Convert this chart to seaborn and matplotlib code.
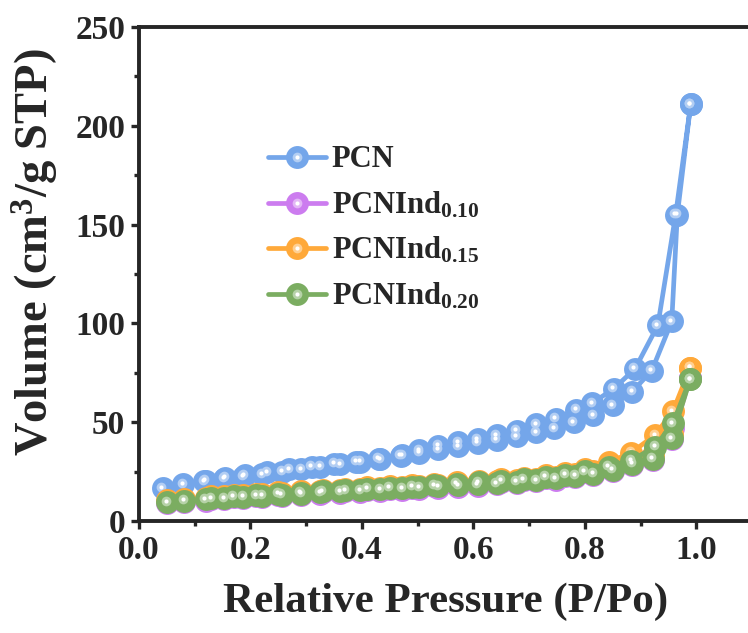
import numpy as np
import pandas as pd
import seaborn as sns
import matplotlib.pyplot as plt
import matplotlib.transforms as mtransforms
from matplotlib.legend_handler import HandlerTuple
from matplotlib.colors import to_rgb

# data: N2 isotherms, adsorption then desorption (P/Po, volume)
pcn_ads_p = [0.043, 0.079, 0.117, 0.153, 0.187, 0.221, 0.257, 0.291, 0.325, 0.361, 0.397, 0.433,
             0.470, 0.503, 0.537, 0.573, 0.608, 0.642, 0.678, 0.713, 0.745, 0.780, 0.815, 0.850,
             0.885, 0.920, 0.956, 0.966, 0.990]
pcn_ads_v = [16.5, 18.5, 20.0, 21.3, 22.5, 23.7, 25.0, 26.3, 27.5, 28.7, 30.0, 31.3,
             33.0, 34.6, 36.2, 37.8, 39.5, 41.2, 43.0, 45.0, 47.0, 50.0, 53.5, 58.5,
             65.5, 76.0, 101.0, 155.0, 211.0]
pcn_des_p = [0.990, 0.963, 0.931, 0.890, 0.852, 0.813, 0.785, 0.748, 0.713, 0.678, 0.642, 0.608,
             0.573, 0.537, 0.503, 0.472, 0.430, 0.390, 0.350, 0.310, 0.270, 0.230, 0.190, 0.155, 0.120]
pcn_des_v = [211.0, 155.0, 99.0, 77.0, 67.0, 59.6, 56.2, 51.8, 48.9, 45.7, 43.4, 41.3,
             39.8, 38.0, 35.9, 33.4, 31.6, 30.1, 28.9, 27.5, 26.2, 24.7, 23.2, 21.8, 20.4]

ind_ads_p = [0.051, 0.081, 0.120, 0.153, 0.187, 0.221, 0.256, 0.291, 0.325, 0.361, 0.397, 0.433,
             0.472, 0.503, 0.537, 0.573, 0.608, 0.642, 0.678, 0.713, 0.748, 0.783, 0.815, 0.850,
             0.885, 0.922, 0.956, 0.989]
ind_des_p = [0.989, 0.958, 0.926, 0.883, 0.843, 0.800, 0.765, 0.730, 0.690, 0.650, 0.610, 0.570,
             0.530, 0.490, 0.450, 0.410, 0.370, 0.330, 0.290, 0.250, 0.210, 0.170, 0.130]

ind10_ads_v = [8.9, 9.6, 10.2, 10.9, 11.5, 12.1, 12.7, 13.2, 13.8, 14.3, 14.8, 15.3,
               15.8, 16.3, 16.8, 17.3, 17.9, 18.5, 19.2, 20.0, 20.9, 22.1, 23.3, 25.3,
               28.3, 31.0, 41.5, 72.5]
ind10_des_v = [72.5, 47.0, 38.5, 30.0, 27.0, 24.7, 23.0, 21.8, 20.7, 19.8, 19.0, 18.3,
               17.6, 16.9, 16.3, 15.7, 15.1, 14.5, 13.9, 13.3, 12.6, 11.9, 11.1]

ind15_ads_v = [10.4, 11.1, 11.7, 12.4, 13.0, 13.6, 14.2, 14.7, 15.3, 15.8, 16.3, 16.8,
               17.3, 17.8, 18.3, 18.8, 19.4, 20.0, 20.7, 21.5, 22.4, 23.6, 25.2, 27.6,
               30.6, 33.5, 44.0, 77.5]
ind15_des_v = [77.5, 55.5, 43.5, 34.5, 29.8, 26.4, 24.4, 23.1, 22.0, 21.1, 20.3, 19.6,
               18.9, 18.2, 17.6, 17.0, 16.4, 15.8, 15.2, 14.6, 13.9, 13.2, 12.4]

ind20_ads_v = [9.6, 10.3, 10.9, 11.6, 12.2, 12.8, 13.4, 13.9, 14.5, 15.0, 15.5, 16.0,
               16.5, 17.0, 17.5, 18.0, 18.6, 19.2, 19.9, 20.7, 21.6, 22.8, 24.0, 26.0,
               29.0, 31.5, 42.0, 71.7]
ind20_des_v = [71.7, 49.4, 37.6, 30.5, 27.5, 25.2, 23.5, 22.3, 21.2, 20.3, 19.5, 18.8,
               18.1, 17.4, 16.8, 16.2, 15.6, 15.0, 14.4, 13.8, 13.1, 12.4, 11.6]

labels = ["PCN", "PCNInd$_{0.10}$", "PCNInd$_{0.15}$", "PCNInd$_{0.20}$"]
colors = ["#74A6EA", "#CC7CEF", "#FFA93A", "#7BAD61"]

series = [
    (pcn_ads_p + pcn_des_p, pcn_ads_v + pcn_des_v),
    (ind_ads_p + ind_des_p, ind10_ads_v + ind10_des_v),
    (ind_ads_p + ind_des_p, ind15_ads_v + ind15_des_v),
    (ind_ads_p + ind_des_p, ind20_ads_v + ind20_des_v),
]

sns.set_style("ticks")
plt.rcParams['font.family'] = ['Liberation Serif', 'DejaVu Serif']
plt.rcParams['font.weight'] = 'bold'
plt.rcParams['axes.labelweight'] = 'bold'
plt.rcParams['mathtext.fontset'] = 'custom'
plt.rcParams['mathtext.rm'] = 'Liberation Serif:bold'
plt.rcParams['mathtext.it'] = 'Liberation Serif:bold'
plt.rcParams['mathtext.bf'] = 'Liberation Serif:bold'

fig = plt.figure(figsize=(7.48, 6.33), dpi=100)
ax = fig.add_axes([139 / 748, 112 / 633, 613 / 748, 494 / 633])

def lighter(c, f):
    r, g, b = to_rgb(c)
    return (r + (1 - r) * f, g + (1 - g) * f, b + (1 - b) * f)

# glossy highlight sits a bit up-left of the marker centre
shift = mtransforms.ScaledTranslation(-1.5 / 100, 1.5 / 100, fig.dpi_scale_trans)
handles = []
for i, ((p, v), lab, col) in enumerate(zip(series, labels, colors)):
    df = pd.DataFrame({"P": p, "V": v})
    z = 2 + i * 0.1
    sns.lineplot(data=df, x="P", y="V", sort=False, estimator=None, ax=ax,
                 color=col, lw=3.4, zorder=z)
    ln = ax.lines[-1]
    m0, = ax.plot(p, v, ls="none", marker="o", ms=16.5, mew=0, color=col, zorder=z + 0.01)
    m1, = ax.plot(p, v, ls="none", marker="o", ms=7.0, mew=0, color=lighter(col, 0.45),
                  transform=ax.transData + shift, zorder=z + 0.03)
    m2, = ax.plot(p, v, ls="none", marker="o", ms=3.0, mew=0, color="white",
                  transform=ax.transData + shift, zorder=z + 0.06)
    handles.append((ln, m0, m1, m2))

ax.set_xlim(0, 1.1)
ax.set_ylim(0, 250)
ax.set_xticks(np.arange(0, 1.01, 0.2))
ax.set_xticks(np.arange(0.1, 1.1, 0.2), minor=True)
ax.set_yticks(np.arange(0, 251, 50))
ax.set_yticks(np.arange(25, 250, 50), minor=True)
ax.xaxis.set_major_formatter(plt.FuncFormatter(lambda x, _: f"{x:.1f}"))
ax.tick_params(which="major", direction="out", length=6, width=2.4, labelsize=24, pad=4)
ax.tick_params(which="minor", direction="out", length=3.5, width=2.4)
for s in ax.spines.values():
    s.set_linewidth(2.8)
    s.set_visible(True)

ax.set_xlabel("Relative Pressure (P/Po)", fontsize=31, labelpad=12)
ax.set_ylabel("Volume (cm$^{3}$/g STP)", fontsize=33.5)
ax.yaxis.set_label_coords(-0.128, 0.545)

ax.legend(handles, labels, handler_map={tuple: HandlerTuple(ndivide=1)},
          loc="upper left", bbox_to_anchor=(0.19, 0.785), frameon=False,
          fontsize=22, handlelength=1.9, handletextpad=0.2, labelspacing=0.5,
          numpoints=1, borderaxespad=0)

fig.savefig("out.png", dpi=100)
